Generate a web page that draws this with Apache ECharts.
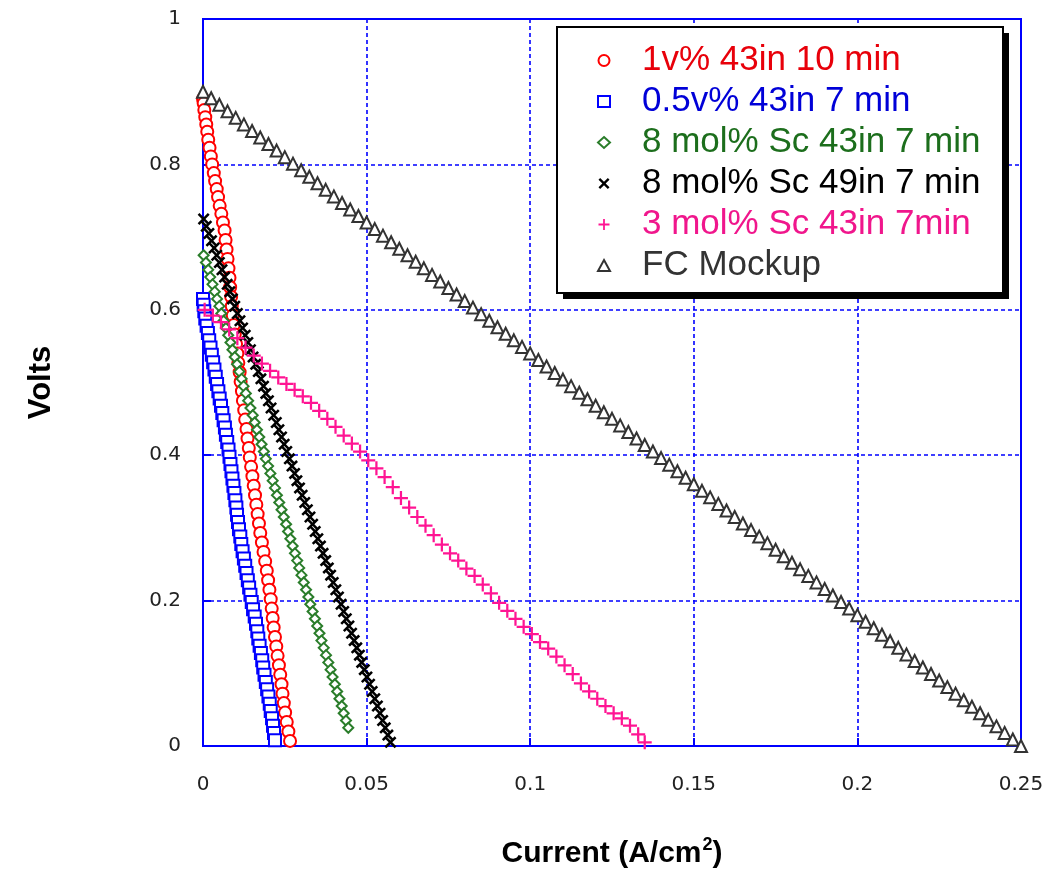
<!DOCTYPE html>
<html>
<head>
<meta charset="utf-8">
<title>Volts vs Current</title>
<script src="https://cdn.jsdelivr.net/npm/echarts@6/dist/echarts.min.js"></script>
<style>
  html, body { margin: 0; padding: 0; background: #fff; }
  #chart { width: 1045px; height: 871px; }
</style>
</head>
<body>
<div id="chart"></div>
<script>
// [current A/cm2, volts]
const red1v = [
  [0.0000, 0.890], [0.0002, 0.884], [0.0004, 0.875], [0.0007, 0.865], [0.0010, 0.855], [0.0013, 0.845],
  [0.0016, 0.834], [0.0020, 0.823], [0.0024, 0.811], [0.0028, 0.800], [0.0033, 0.788], [0.0037, 0.777],
  [0.0042, 0.766], [0.0046, 0.755], [0.0051, 0.743], [0.0056, 0.732], [0.0061, 0.720], [0.0066, 0.709],
  [0.0069, 0.696], [0.0072, 0.683], [0.0075, 0.670], [0.0078, 0.657], [0.0081, 0.644], [0.0083, 0.631],
  [0.0086, 0.618], [0.0088, 0.605], [0.0091, 0.592], [0.0094, 0.579], [0.0097, 0.566], [0.0101, 0.553],
  [0.0105, 0.540], [0.0108, 0.527], [0.0112, 0.514], [0.0115, 0.501], [0.0119, 0.488], [0.0122, 0.475],
  [0.0126, 0.462], [0.0129, 0.449], [0.0133, 0.436], [0.0136, 0.423], [0.0140, 0.410], [0.0143, 0.397],
  [0.0147, 0.384], [0.0151, 0.371], [0.0155, 0.358], [0.0159, 0.345], [0.0163, 0.332], [0.0167, 0.319],
  [0.0171, 0.306], [0.0175, 0.293], [0.0180, 0.280], [0.0185, 0.267], [0.0190, 0.254], [0.0195, 0.241],
  [0.0199, 0.228], [0.0203, 0.215], [0.0207, 0.202], [0.0210, 0.189], [0.0213, 0.176], [0.0216, 0.163],
  [0.0220, 0.150], [0.0224, 0.137], [0.0228, 0.124], [0.0232, 0.111], [0.0236, 0.098], [0.0240, 0.085],
  [0.0243, 0.072], [0.0247, 0.059], [0.0251, 0.046], [0.0256, 0.033], [0.0261, 0.020], [0.0266, 0.007]
];

const blue05v = [
  [0.0000, 0.615], [0.0002, 0.607], [0.0004, 0.598], [0.0007, 0.588], [0.0011, 0.578], [0.0015, 0.568],
  [0.0019, 0.558], [0.0023, 0.548], [0.0027, 0.538], [0.0031, 0.528], [0.0035, 0.518], [0.0039, 0.508],
  [0.0043, 0.498], [0.0047, 0.488], [0.0051, 0.478], [0.0055, 0.468], [0.0059, 0.458], [0.0063, 0.448],
  [0.0067, 0.438], [0.0070, 0.428], [0.0074, 0.418], [0.0078, 0.408], [0.0081, 0.398], [0.0084, 0.388],
  [0.0087, 0.378], [0.0090, 0.368], [0.0093, 0.358], [0.0096, 0.348], [0.0099, 0.338], [0.0102, 0.328],
  [0.0104, 0.318], [0.0107, 0.308], [0.0110, 0.298], [0.0114, 0.288], [0.0117, 0.278], [0.0121, 0.268],
  [0.0125, 0.258], [0.0129, 0.248], [0.0133, 0.238], [0.0137, 0.228], [0.0141, 0.218], [0.0145, 0.208],
  [0.0149, 0.198], [0.0153, 0.188], [0.0158, 0.178], [0.0162, 0.168], [0.0166, 0.158], [0.0169, 0.148],
  [0.0173, 0.138], [0.0177, 0.128], [0.0181, 0.118], [0.0184, 0.108], [0.0188, 0.098], [0.0192, 0.088],
  [0.0196, 0.078], [0.0200, 0.068], [0.0204, 0.058], [0.0207, 0.048], [0.0211, 0.038], [0.0214, 0.028],
  [0.0217, 0.018], [0.0220, 0.008]
];

const green8mol43 = [
  [0.0002, 0.675], [0.0009, 0.665], [0.0016, 0.655], [0.0022, 0.645], [0.0029, 0.635], [0.0036, 0.625],
  [0.0043, 0.615], [0.0050, 0.605], [0.0056, 0.595], [0.0063, 0.585], [0.0070, 0.575], [0.0077, 0.565],
  [0.0084, 0.555], [0.0090, 0.545], [0.0097, 0.535], [0.0104, 0.525], [0.0111, 0.515], [0.0118, 0.505],
  [0.0124, 0.495], [0.0131, 0.485], [0.0138, 0.475], [0.0145, 0.465], [0.0152, 0.455], [0.0158, 0.445],
  [0.0165, 0.435], [0.0172, 0.425], [0.0179, 0.415], [0.0186, 0.405], [0.0192, 0.395], [0.0199, 0.385],
  [0.0206, 0.375], [0.0213, 0.365], [0.0220, 0.355], [0.0226, 0.345], [0.0233, 0.335], [0.0240, 0.325],
  [0.0247, 0.315], [0.0254, 0.305], [0.0260, 0.295], [0.0267, 0.285], [0.0274, 0.275], [0.0281, 0.265],
  [0.0288, 0.255], [0.0294, 0.245], [0.0301, 0.235], [0.0308, 0.225], [0.0315, 0.215], [0.0322, 0.205],
  [0.0328, 0.195], [0.0335, 0.185], [0.0342, 0.175], [0.0349, 0.165], [0.0356, 0.155], [0.0362, 0.145],
  [0.0369, 0.135], [0.0376, 0.125], [0.0383, 0.115], [0.0390, 0.105], [0.0396, 0.095], [0.0403, 0.085],
  [0.0410, 0.075], [0.0417, 0.065], [0.0424, 0.055], [0.0430, 0.045], [0.0437, 0.035], [0.0444, 0.025]
];

const black8mol49 = [
  [0.0002, 0.725], [0.0010, 0.715], [0.0018, 0.705], [0.0026, 0.695], [0.0034, 0.685], [0.0042, 0.675],
  [0.0050, 0.665], [0.0058, 0.655], [0.0066, 0.645], [0.0074, 0.635], [0.0082, 0.625], [0.0090, 0.615],
  [0.0097, 0.605], [0.0105, 0.595], [0.0113, 0.585], [0.0121, 0.575], [0.0129, 0.565], [0.0137, 0.555],
  [0.0145, 0.545], [0.0153, 0.535], [0.0161, 0.525], [0.0169, 0.515], [0.0177, 0.505], [0.0185, 0.495],
  [0.0192, 0.485], [0.0200, 0.475], [0.0208, 0.465], [0.0216, 0.455], [0.0224, 0.445], [0.0232, 0.435],
  [0.0240, 0.425], [0.0248, 0.415], [0.0256, 0.405], [0.0264, 0.395], [0.0272, 0.385], [0.0280, 0.375],
  [0.0287, 0.365], [0.0295, 0.355], [0.0303, 0.345], [0.0311, 0.335], [0.0319, 0.325], [0.0327, 0.315],
  [0.0335, 0.305], [0.0343, 0.295], [0.0351, 0.285], [0.0359, 0.275], [0.0367, 0.265], [0.0375, 0.255],
  [0.0383, 0.245], [0.0390, 0.235], [0.0398, 0.225], [0.0406, 0.215], [0.0414, 0.205], [0.0422, 0.195],
  [0.0430, 0.185], [0.0438, 0.175], [0.0446, 0.165], [0.0454, 0.155], [0.0462, 0.145], [0.0470, 0.135],
  [0.0478, 0.125], [0.0485, 0.115], [0.0493, 0.105], [0.0501, 0.095], [0.0509, 0.085], [0.0517, 0.075],
  [0.0525, 0.065], [0.0533, 0.055], [0.0541, 0.045], [0.0549, 0.035], [0.0557, 0.025], [0.0565, 0.015],
  [0.0573, 0.005]
];

const pink3mol = [
  [0.0005, 0.600], [0.0030, 0.592], [0.0055, 0.583], [0.0080, 0.573], [0.0105, 0.561], [0.0130, 0.548],
  [0.0155, 0.537], [0.0180, 0.526], [0.0205, 0.516], [0.0230, 0.507], [0.0255, 0.498], [0.0280, 0.490],
  [0.0305, 0.481], [0.0330, 0.472], [0.0355, 0.461], [0.0380, 0.450], [0.0405, 0.439], [0.0430, 0.427],
  [0.0455, 0.416], [0.0480, 0.405], [0.0505, 0.393], [0.0530, 0.382], [0.0555, 0.370], [0.0580, 0.356],
  [0.0605, 0.341], [0.0630, 0.328], [0.0655, 0.315], [0.0680, 0.303], [0.0705, 0.290], [0.0730, 0.277],
  [0.0755, 0.265], [0.0780, 0.255], [0.0805, 0.244], [0.0830, 0.234], [0.0855, 0.222], [0.0880, 0.210],
  [0.0905, 0.197], [0.0930, 0.186], [0.0955, 0.175], [0.0980, 0.164], [0.1005, 0.154], [0.1030, 0.143],
  [0.1055, 0.134], [0.1080, 0.123], [0.1105, 0.111], [0.1130, 0.099], [0.1155, 0.086], [0.1180, 0.075],
  [0.1205, 0.065], [0.1230, 0.055], [0.1255, 0.045], [0.1280, 0.038], [0.1305, 0.028], [0.1330, 0.016],
  [0.1350, 0.005]
];

const fcMockup = [
  [0.0000, 0.900], [0.0025, 0.891], [0.0050, 0.882], [0.0075, 0.873], [0.0100, 0.864], [0.0125, 0.855],
  [0.0150, 0.846], [0.0175, 0.837], [0.0200, 0.828], [0.0225, 0.819], [0.0250, 0.810], [0.0275, 0.801],
  [0.0300, 0.792], [0.0325, 0.783], [0.0350, 0.774], [0.0375, 0.765], [0.0400, 0.756], [0.0425, 0.747],
  [0.0450, 0.738], [0.0475, 0.729], [0.0500, 0.720], [0.0525, 0.711], [0.0550, 0.702], [0.0575, 0.693],
  [0.0600, 0.684], [0.0625, 0.675], [0.0650, 0.666], [0.0675, 0.657], [0.0700, 0.648], [0.0725, 0.639],
  [0.0750, 0.630], [0.0775, 0.621], [0.0800, 0.612], [0.0825, 0.603], [0.0850, 0.594], [0.0875, 0.585],
  [0.0900, 0.576], [0.0925, 0.567], [0.0950, 0.558], [0.0975, 0.549], [0.1000, 0.540], [0.1025, 0.531],
  [0.1050, 0.522], [0.1075, 0.513], [0.1100, 0.504], [0.1125, 0.495], [0.1150, 0.486], [0.1175, 0.477],
  [0.1200, 0.468], [0.1225, 0.459], [0.1250, 0.450], [0.1275, 0.441], [0.1300, 0.432], [0.1325, 0.423],
  [0.1350, 0.414], [0.1375, 0.405], [0.1400, 0.396], [0.1425, 0.387], [0.1450, 0.378], [0.1475, 0.369],
  [0.1500, 0.360], [0.1525, 0.351], [0.1550, 0.342], [0.1575, 0.333], [0.1600, 0.324], [0.1625, 0.315],
  [0.1650, 0.306], [0.1675, 0.297], [0.1700, 0.288], [0.1725, 0.279], [0.1750, 0.270], [0.1775, 0.261],
  [0.1800, 0.252], [0.1825, 0.243], [0.1850, 0.234], [0.1875, 0.225], [0.1900, 0.216], [0.1925, 0.207],
  [0.1950, 0.198], [0.1975, 0.189], [0.2000, 0.180], [0.2025, 0.171], [0.2050, 0.162], [0.2075, 0.153],
  [0.2100, 0.144], [0.2125, 0.135], [0.2150, 0.126], [0.2175, 0.117], [0.2200, 0.108], [0.2225, 0.099],
  [0.2250, 0.090], [0.2275, 0.081], [0.2300, 0.072], [0.2325, 0.063], [0.2350, 0.054], [0.2375, 0.045],
  [0.2400, 0.036], [0.2425, 0.027], [0.2450, 0.018], [0.2475, 0.009], [0.2500, 0.000]
];

const seriesNames = [
  '1v% 43in 10 min',
  '0.5v% 43in 7 min',
  '8 mol% Sc 43in 7 min',
  '8 mol% Sc 49in 7 min',
  '3 mol% Sc 43in 7min',
  'FC Mockup'
];

const xTickStep = 0.05;
const yTickStep = 0.2;

const crossPath = 'path://M0,1.5L1.5,0L5,3.5L8.5,0L10,1.5L6.5,5L10,8.5L8.5,10L5,6.5L1.5,10L0,8.5L3.5,5Z';
const plusPath = 'path://M4.2,0H5.8V4.2H10V5.8H5.8V10H4.2V5.8H0V4.2H4.2Z';

const FONT = '"Liberation Sans", Arial, sans-serif';
const AXIS_BLUE = '#0000ff';

const chart = echarts.init(document.getElementById('chart'));

function scatter(name, data, symbol, size, color, borderWidth) {
  return {
    name,
    type: 'scatter',
    data,
    symbol,
    symbolSize: size,
    symbolKeepAspect: true,
    itemStyle: { color, borderColor: color, borderWidth, opacity: 1 },
    emphasis: { disabled: true },
    z: 3
  };
}

const legendColors = ['#e8000a', '#0000d8', '#1c6e1c', '#000000', '#f0168c', '#333333'];

chart.setOption({
  animation: false,
  backgroundColor: '#ffffff',
  textStyle: { fontFamily: FONT },
  grid: {
    left: 203,
    right: 24,
    top: 19,
    bottom: 125,
    outerBoundsMode: 'none',
    show: true,
    borderColor: AXIS_BLUE,
    borderWidth: 2,
    backgroundColor: 'transparent'
  },
  // legend box with its hard drop shadow
  graphic: [
    { type: 'rect', shape: { x: 563, y: 33, width: 446, height: 266 }, style: { fill: '#000' }, z: 10 },
    { type: 'rect', shape: { x: 557, y: 27, width: 446, height: 266 }, style: { fill: '#fff', stroke: '#000', lineWidth: 2 }, z: 10 }
  ],
  legend: {
    orient: 'vertical',
    left: 557,
    top: 27,
    padding: [13, 14, 10, 40],
    itemWidth: 12,
    itemHeight: 11,
    itemGap: 0,
    symbolKeepAspect: true,
    selectedMode: false,
    z: 20,
    textStyle: { fontFamily: FONT, fontSize: 35, lineHeight: 41, padding: [0, 0, 0, 27] },
    data: seriesNames.map((n, i) => ({ name: n, textStyle: { color: legendColors[i] } }))
  },
  xAxis: {
    type: 'value',
    min: 0,
    max: 0.25,
    interval: xTickStep,
    name: 'Current (A/cm{sup|2})',
    nameLocation: 'middle',
    nameGap: 90,
    nameTextStyle: {
      fontFamily: FONT,
      fontSize: 30,
      fontWeight: 'bold',
      color: '#000',
      rich: {
        sup: { fontSize: 18, fontFamily: FONT, color: '#000', verticalAlign: 'top', padding: [0, 0, 18, 1] }
      }
    },
    axisLine: { show: true, lineStyle: { color: AXIS_BLUE, width: 2 } },
    axisTick: { show: true, inside: true, length: 8, lineStyle: { color: AXIS_BLUE, width: 2 } },
    axisLabel: { color: '#222', fontSize: 20, fontFamily: '"DejaVu Sans", sans-serif', margin: 29 },
    splitLine: { show: true, lineStyle: { color: AXIS_BLUE, type: [4, 3], width: 1.6 } }
  },
  yAxis: {
    type: 'value',
    min: 0,
    max: 1,
    interval: yTickStep,
    name: 'Volts',
    nameLocation: 'middle',
    nameGap: 146,
    nameTextStyle: { fontFamily: FONT, fontSize: 31, fontWeight: 'bold', color: '#000' },
    axisLine: { show: true, lineStyle: { color: AXIS_BLUE, width: 2 } },
    axisTick: { show: true, inside: true, length: 8, lineStyle: { color: AXIS_BLUE, width: 2 } },
    axisLabel: { color: '#222', fontSize: 20, fontFamily: '"DejaVu Sans", sans-serif', margin: 22 },
    splitLine: { show: true, lineStyle: { color: AXIS_BLUE, type: [4, 3], width: 1.6 } }
  },
  series: [
    scatter(seriesNames[0], red1v, 'emptyCircle', 12, '#ff0000', 2.2),
    scatter(seriesNames[1], blue05v, 'emptyRect', 12, '#0000ff', 2.2),
    scatter(seriesNames[2], green8mol43, 'emptyDiamond', 10, '#2a7d2a', 1.2),
    scatter(seriesNames[3], black8mol49, crossPath, 12, '#000000', 0),
    scatter(seriesNames[4], pink3mol, plusPath, 14, '#ff1493', 0),
    scatter(seriesNames[5], fcMockup, 'emptyTriangle', 12, '#333333', 1.5)
  ]
});
</script>
</body>
</html>
